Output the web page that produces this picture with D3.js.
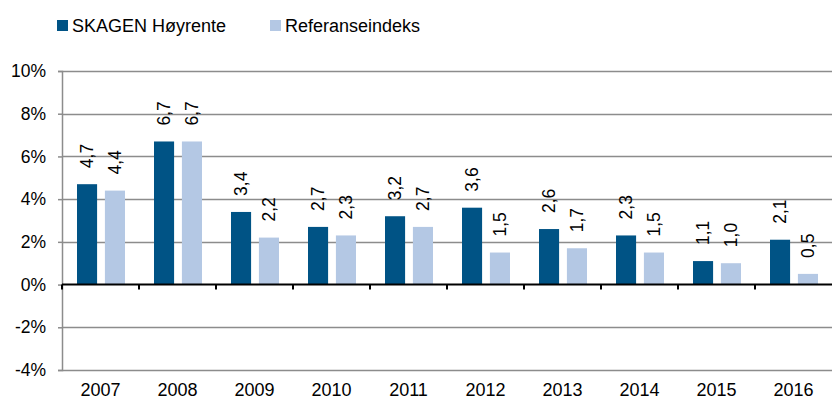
<!DOCTYPE html>
<html>
<head>
<meta charset="utf-8">
<script src="https://cdn.jsdelivr.net/npm/d3@7"></script>
<style>
  body { margin: 0; background: #fff; }
  svg { display: block; font-family: 'Liberation Sans', Arial, sans-serif; }
</style>
</head>
<body>
<div class="chart"></div>
<script>
/* Chart data
--------------------------------------------------- */
const years = ['2007', '2008', '2009', '2010', '2011', '2012', '2013', '2014', '2015', '2016'];
const skagen = [4.7, 6.7, 3.4, 2.7, 3.2, 3.6, 2.6, 2.3, 1.1, 2.1];
const referanse = [4.4, 6.7, 2.2, 2.3, 2.7, 1.5, 1.7, 1.5, 1.0, 0.5];
const seriesNames = ['SKAGEN Høyrente', 'Referanseindeks'];
const yTicks = [-4, -2, 0, 2, 4, 6, 8, 10];

const colors = ['#005385', '#b4c8e4'];
const fontSize = 17.5;

/* Set up svg and scales
--------------------------------------------------- */
const width = 832;
const height = 401;
const margin = { top: 71, right: 0, bottom: 31, left: 62 };
const innerW = width - margin.left - margin.right;
const innerH = height - margin.top - margin.bottom;

const svg = d3
  .select('.chart')
  .append('svg')
  .attr('width', width)
  .attr('height', height);

const g = svg.append('g').attr('transform', 'translate(' + margin.left + ',' + margin.top + ')');

const x = d3.scaleBand().domain(years).range([0, innerW]);
const x1 = d3
  .scaleBand()
  .domain([0, 1])
  .range([15, x.bandwidth() - 14])
  .paddingInner(0.28);
const y = d3.scaleLinear().domain([-4, 10]).range([innerH, 0]);

/* Gridlines and y axis
--------------------------------------------------- */
g.selectAll('.grid')
  .data(yTicks.filter(d => d !== 0))
  .enter()
  .append('line')
  .attr('x1', 0)
  .attr('x2', innerW)
  .attr('y1', d => Math.round(y(d)) + 0.5)
  .attr('y2', d => Math.round(y(d)) + 0.5)
  .attr('stroke', '#8c8c8c')
  .attr('stroke-width', 1.5);

const yAxis = g.append('g').call(
  d3
    .axisLeft(y)
    .tickValues(yTicks)
    .tickSize(4)
    .tickPadding(12)
    .tickFormat(d => d + '%'),
);
yAxis.select('.domain').attr('stroke', '#8c8c8c').attr('stroke-width', 1.5);
yAxis.selectAll('.tick line').attr('stroke', '#8c8c8c').attr('stroke-width', 1.5);
yAxis.selectAll('.tick text').attr('font-size', fontSize).attr('fill', '#000');

/* Bars and labels
--------------------------------------------------- */
const rows = years.map((year, i) => ({ year, values: [skagen[i], referanse[i]] }));

const groups = g
  .selectAll('.year')
  .data(rows)
  .enter()
  .append('g')
  .attr('transform', d => 'translate(' + x(d.year) + ',0)');

groups
  .selectAll('rect')
  .data(d => d.values.map((v, k) => ({ v, k })))
  .enter()
  .append('rect')
  .attr('x', d => x1(d.k))
  .attr('width', x1.bandwidth())
  .attr('y', d => y(d.v))
  .attr('height', d => y(0) - y(d.v))
  .attr('fill', d => colors[d.k]);

groups
  .selectAll('.label')
  .data(d => d.values.map((v, k) => ({ v, k })))
  .enter()
  .append('text')
  .attr('class', 'label')
  .attr('transform', d => 'translate(' + (x1(d.k) + x1.bandwidth() / 2 + 6) + ',' + (y(d.v) - 16) + ') rotate(-90)')
  .attr('font-size', fontSize)
  .attr('fill', '#000')
  .text(d => d.v.toFixed(1).replace('.', ','));

/* x axis at zero
--------------------------------------------------- */
const xAxis = g.append('g').attr('transform', 'translate(0,' + y(0) + ')');
xAxis
  .append('line')
  .attr('x1', 0)
  .attr('x2', innerW)
  .attr('stroke', '#000')
  .attr('stroke-width', 2);
xAxis
  .selectAll('.xtick')
  .data(years)
  .enter()
  .append('line')
  .attr('x1', d => x(d))
  .attr('x2', d => x(d))
  .attr('y1', 0)
  .attr('y2', 5)
  .attr('stroke', '#000')
  .attr('stroke-width', 2);

g.selectAll('.year-label')
  .data(years)
  .enter()
  .append('text')
  .attr('x', d => x(d) + x.bandwidth() / 2)
  .attr('y', innerH + 26)
  .attr('text-anchor', 'middle')
  .attr('font-size', 18)
  .attr('fill', '#000')
  .text(d => d);

/* Legend
--------------------------------------------------- */
const legendX = [57, 270];
const legend = svg
  .selectAll('.legend')
  .data(seriesNames)
  .enter()
  .append('g')
  .attr('transform', (d, i) => 'translate(' + legendX[i] + ',20)');

legend
  .append('rect')
  .attr('width', 11)
  .attr('height', 11)
  .attr('fill', (d, i) => colors[i]);

legend
  .append('text')
  .attr('x', 15)
  .attr('y', 12)
  .attr('font-size', 18)
  .attr('fill', '#000')
  .text(d => d);
</script>
</body>
</html>
